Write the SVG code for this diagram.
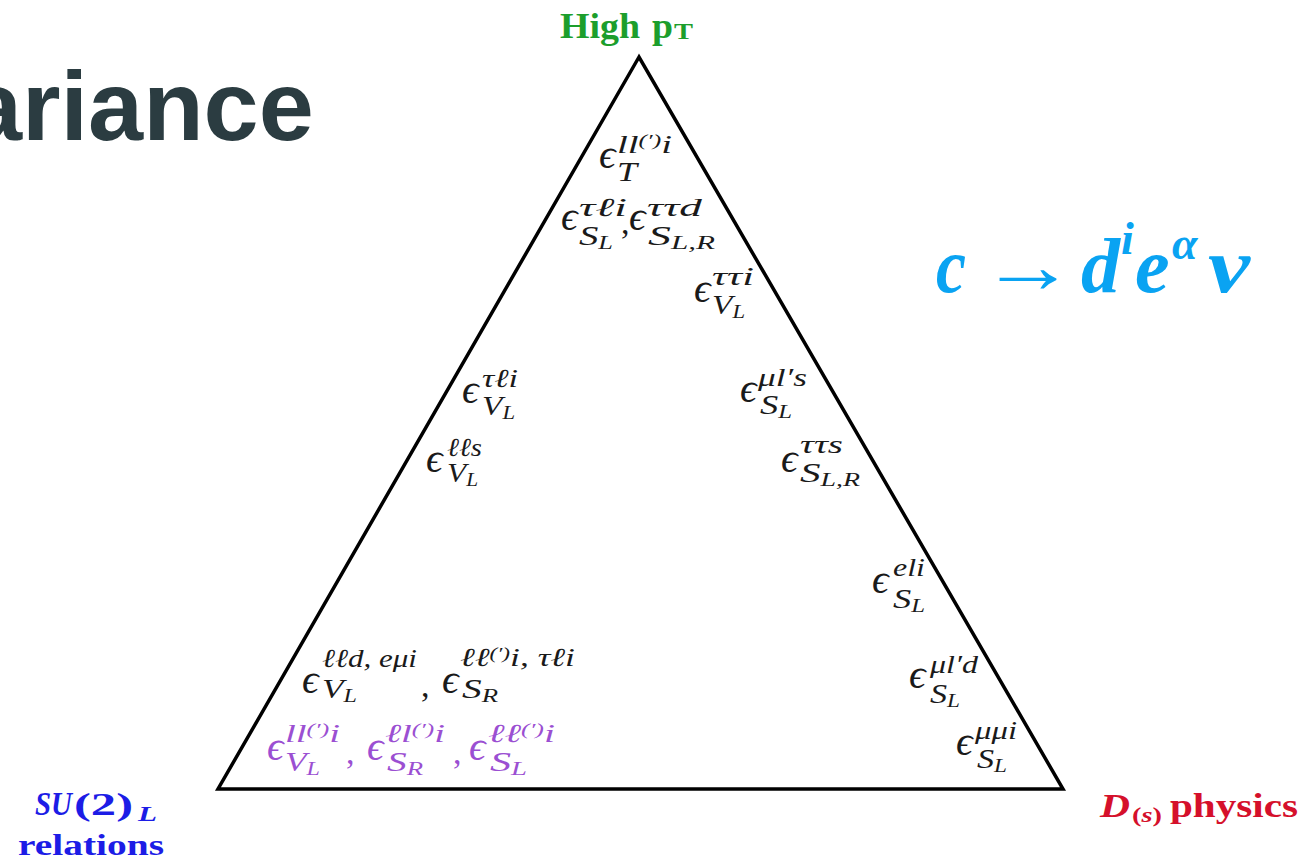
<svg xmlns="http://www.w3.org/2000/svg" width="1311" height="862" viewBox="0 0 1311 862">
<style>
.m{font-family:"Liberation Serif","DejaVu Serif",serif;font-style:italic;fill:#1a1a1a}
.e{font-size:41px}
.sp{font-size:26px}
.sb{font-size:28px}
.ss{font-size:19px}
.q{font-size:17px}
.c{font-size:34px;font-style:normal}
.pu{fill:#9b4fd2}
.tri{fill:none;stroke:#000;stroke-width:3.5;stroke-linejoin:miter}
</style>
<rect width="1311" height="862" fill="#fff"/>
<text x="-33" y="140" font-family="Liberation Sans, Arial, sans-serif" font-weight="bold" font-size="99" fill="#2b3c41">ariance</text>
<g id="triangle"><polygon class="tri" points="639,57 218,789 1063,789"/></g>
<g id="labels">
<g font-family="Liberation Serif, serif" font-weight="bold" font-size="35" fill="#1c9e2c">
<text x="560" y="38" textLength="80" lengthAdjust="spacingAndGlyphs">High</text>
<text x="652" y="38" textLength="21" lengthAdjust="spacingAndGlyphs">p</text>
<text x="674" y="39" font-size="23" textLength="19" lengthAdjust="spacingAndGlyphs">T</text>
</g>
<g font-family="Liberation Serif, serif" font-weight="bold" font-style="italic" font-size="78" fill="#0aa3f2">
<text x="936" y="292" textLength="30" lengthAdjust="spacingAndGlyphs">c</text>
<text x="980" y="292" font-style="normal" font-weight="normal" textLength="96" lengthAdjust="spacingAndGlyphs">→</text>
<text x="1081" y="292">d</text>
<text x="1121" y="254" font-size="46">i</text>
<text x="1135" y="292">e</text>
<text x="1172" y="259" font-size="46">α</text>
<text x="1208" y="292" textLength="42" lengthAdjust="spacingAndGlyphs">ν</text>
</g>
<g font-family="Liberation Serif, serif" font-weight="bold" font-size="32" fill="#1c1ce6">
<text x="35" y="815" font-style="italic" font-size="34" textLength="37" lengthAdjust="spacingAndGlyphs">SU</text>
<text x="74" y="815" textLength="59" lengthAdjust="spacingAndGlyphs">(2)</text>
<text x="138" y="821" font-style="italic" font-size="21" textLength="19" lengthAdjust="spacingAndGlyphs">L</text>
<text x="18" y="855" font-size="30" textLength="146" lengthAdjust="spacingAndGlyphs">relations</text>
</g>
<g font-family="Liberation Serif, serif" font-weight="bold" font-size="34" fill="#d5102b">
<text x="1100" y="817" font-style="italic" textLength="30" lengthAdjust="spacingAndGlyphs">D</text>
<text x="1132" y="822" font-size="22" textLength="30" lengthAdjust="spacingAndGlyphs">(<tspan font-style="italic">s</tspan>)</text>
<text x="1170" y="817" textLength="128" lengthAdjust="spacingAndGlyphs">physics</text>
</g>
</g>
<g id="t1" class="m"><text class="e" x="599" y="168">ϵ</text><text class="sp" x="617" y="153" textLength="55" lengthAdjust="spacingAndGlyphs">ll<tspan class="q" dy="-7">(′)</tspan><tspan dy="7">i</tspan></text><text class="sb" x="617" y="181" textLength="20" lengthAdjust="spacingAndGlyphs">T</text></g>
<g id="t2" class="m"><text class="e" x="561" y="230">ϵ</text><text class="sp" x="579" y="216" textLength="48" lengthAdjust="spacingAndGlyphs">τℓi</text><text class="sb" x="579" y="245" textLength="34" lengthAdjust="spacingAndGlyphs">S<tspan class="ss" dy="4">L</tspan></text><text class="c" x="621" y="234">,</text>
<text class="e" x="629" y="230">ϵ</text><text class="sp" x="647" y="216" textLength="55" lengthAdjust="spacingAndGlyphs">ττd</text><text class="sb" x="648" y="245" textLength="67" lengthAdjust="spacingAndGlyphs">S<tspan class="ss" dy="4">L,R</tspan></text></g>
<g id="t3" class="m"><text class="e" x="694" y="302">ϵ</text><text class="sp" x="712" y="285" textLength="42" lengthAdjust="spacingAndGlyphs">ττi</text><text class="sb" x="712" y="314" textLength="33" lengthAdjust="spacingAndGlyphs">V<tspan class="ss" dy="4">L</tspan></text></g>
<g id="t4" class="m"><text class="e" x="462" y="403">ϵ</text><text class="sp" x="482" y="387" textLength="36" lengthAdjust="spacingAndGlyphs">τℓi</text><text class="sb" x="482" y="415" textLength="33" lengthAdjust="spacingAndGlyphs">V<tspan class="ss" dy="4">L</tspan></text></g>
<g id="t5" class="m"><text class="e" x="426" y="472">ϵ</text><text class="sp" x="447" y="456" textLength="35" lengthAdjust="spacingAndGlyphs">ℓℓs</text><text class="sb" x="447" y="482" textLength="31" lengthAdjust="spacingAndGlyphs">V<tspan class="ss" dy="4">L</tspan></text></g>
<g id="t6" class="m"><text class="e" x="740" y="402">ϵ</text><text class="sp" x="758" y="386" textLength="49" lengthAdjust="spacingAndGlyphs">μl′s</text><text class="sb" x="760" y="414" textLength="32" lengthAdjust="spacingAndGlyphs">S<tspan class="ss" dy="4">L</tspan></text></g>
<g id="t7" class="m"><text class="e" x="781" y="472">ϵ</text><text class="sp" x="800" y="453" textLength="43" lengthAdjust="spacingAndGlyphs">ττs</text><text class="sb" x="800" y="482" textLength="60" lengthAdjust="spacingAndGlyphs">S<tspan class="ss" dy="4">L,R</tspan></text></g>
<g id="t8" class="m"><text class="e" x="872" y="593">ϵ</text><text class="sp" x="893" y="576" textLength="32" lengthAdjust="spacingAndGlyphs">eli</text><text class="sb" x="893" y="608" textLength="32" lengthAdjust="spacingAndGlyphs">S<tspan class="ss" dy="4">L</tspan></text></g>
<g id="t9" class="m"><text class="e" x="909" y="688">ϵ</text><text class="sp" x="930" y="673" textLength="48" lengthAdjust="spacingAndGlyphs">μl′d</text><text class="sb" x="930" y="703" textLength="30" lengthAdjust="spacingAndGlyphs">S<tspan class="ss" dy="4">L</tspan></text></g>
<g id="t10" class="m"><text class="e" x="956" y="755">ϵ</text><text class="sp" x="975" y="739" textLength="42" lengthAdjust="spacingAndGlyphs">μμi</text><text class="sb" x="977" y="768" textLength="30" lengthAdjust="spacingAndGlyphs">S<tspan class="ss" dy="4">L</tspan></text></g>
<g id="t11" class="m"><text class="e" x="302" y="693">ϵ</text><text class="sp" x="322" y="667" textLength="95" lengthAdjust="spacingAndGlyphs">ℓℓd, eμi</text><text class="sb" x="322" y="698" textLength="35" lengthAdjust="spacingAndGlyphs">V<tspan class="ss" dy="4">L</tspan></text><text class="c" x="421" y="697">,</text>
<text class="e" x="442" y="693">ϵ</text><text class="sp" x="460" y="666" textLength="115" lengthAdjust="spacingAndGlyphs">ℓℓ<tspan class="q" dy="-7">(′)</tspan><tspan dy="7">i, τℓi</tspan></text><text class="sb" x="462" y="698" textLength="36" lengthAdjust="spacingAndGlyphs">S<tspan class="ss" dy="4">R</tspan></text></g>
<g id="t12" class="m pu"><text class="e" x="267" y="760">ϵ</text><text class="sp" x="285" y="742" textLength="55" lengthAdjust="spacingAndGlyphs">ll<tspan class="q" dy="-7">(′)</tspan><tspan dy="7">i</tspan></text><text class="sb" x="285" y="771" textLength="35" lengthAdjust="spacingAndGlyphs">V<tspan class="ss" dy="4">L</tspan></text><text class="c" x="346" y="764">,</text>
<text class="e" x="367" y="760">ϵ</text><text class="sp" x="385" y="742" textLength="60" lengthAdjust="spacingAndGlyphs">ℓl<tspan class="q" dy="-7">(′)</tspan><tspan dy="7">i</tspan></text><text class="sb" x="387" y="771" textLength="36" lengthAdjust="spacingAndGlyphs">S<tspan class="ss" dy="4">R</tspan></text><text class="c" x="453" y="764">,</text>
<text class="e" x="469" y="760">ϵ</text><text class="sp" x="488" y="742" textLength="67" lengthAdjust="spacingAndGlyphs">ℓℓ<tspan class="q" dy="-7">(′)</tspan><tspan dy="7">i</tspan></text><text class="sb" x="490" y="771" textLength="37" lengthAdjust="spacingAndGlyphs">S<tspan class="ss" dy="4">L</tspan></text></g>
</svg>
